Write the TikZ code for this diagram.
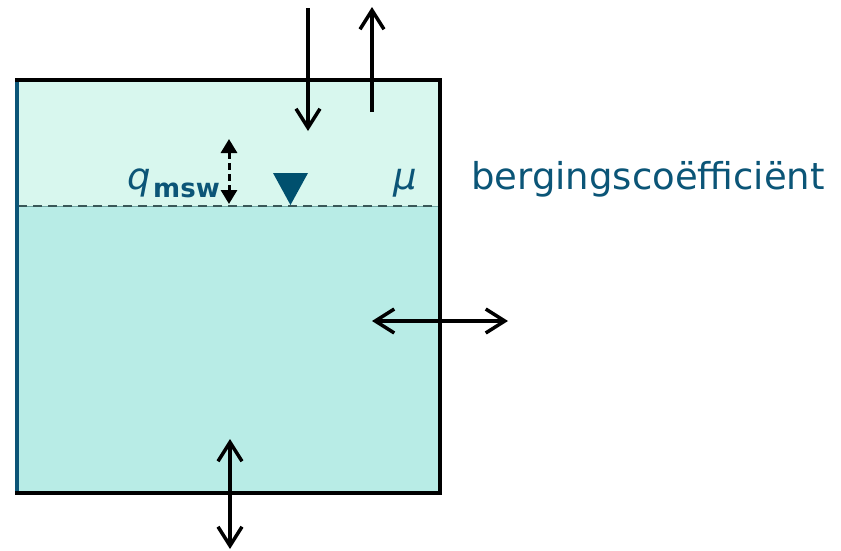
\documentclass[tikz,border=0pt]{standalone}
\usepackage{fontspec}
\setmainfont{DejaVu Sans}
\usetikzlibrary{arrows.meta}
\definecolor{txtblue}{HTML}{0B5577}
\definecolor{triblue}{HTML}{00506E}
\definecolor{upfill}{HTML}{D8F7EE}
\definecolor{lowfill}{HTML}{B8ECE6}
\definecolor{edgegray}{HTML}{6FA8A4}
\definecolor{dashgray}{HTML}{3A5858}
\tikzset{
  barb/.tip={Straight Barb[length=19pt,width=24pt,line width=3.5pt]},
  flux/.style={line width=3.5pt, barb-barb},
  fluxone/.style={line width=3.5pt, -barb},
  lbl/.style={text=txtblue, inner sep=0pt, anchor=base west},
}
\begin{document}
\begin{tikzpicture}[x=1pt,y=-1pt]
\useasboundingbox (0,0) rectangle (841,550);
% fills
\fill[upfill, draw=edgegray, line width=0.8pt] (17,80) rectangle (440,206);
\fill[lowfill, draw=edgegray, line width=0.8pt] (17,206) rectangle (440,493);
% water level
\draw[dashgray, line width=2pt, dash pattern=on 9pt off 6pt] (18,205.5) -- (439,205.5);
% box walls
\draw[txtblue, line width=3.5pt] (17,79) -- (17,494);
\draw[black, line width=3.5pt, line cap=rect] (17,80) -- (440,80) -- (440,493) -- (17,493);
% marker triangle
\fill[triblue] (273,173) -- (308,173) -- (290.5,205) -- cycle;
% coordinates
\coordinate (inT) at (308,8);
\coordinate (inB) at (308,131);
\coordinate (outB) at (372,112);
\coordinate (outT) at (372,7);
\coordinate (latL) at (372,321);
\coordinate (latR) at (508,321);
\coordinate (botT) at (230,439);
\coordinate (botB) at (230,549);
\coordinate (qT) at (229,139);
\coordinate (qB) at (229,204);
% arrows
\draw[fluxone] (inT) -- (inB);
\draw[fluxone] (outB) -- (outT);
\draw[flux] (latL) -- (latR);
\draw[flux] (botT) -- (botB);
\draw[line width=3pt, dash pattern=on 7pt off 4pt, {Triangle[length=14pt,width=16pt]}-{Triangle[length=14pt,width=16pt]}] (qT) -- (qB);
% labels
\node[lbl, font=\fontsize{37}{44}\selectfont\itshape] (q) at (127,189) {q};
\node[lbl, font=\fontsize{26}{31}\selectfont\bfseries] (msw) at (153,197) {msw};
\node[lbl, font=\fontsize{37}{44}\selectfont\itshape] (mu) at (393,189) {μ};
\node[lbl, font=\fontsize{37}{44}\selectfont] (berg) at (471,189) {bergingscoëfficiënt};
\end{tikzpicture}
\end{document}
